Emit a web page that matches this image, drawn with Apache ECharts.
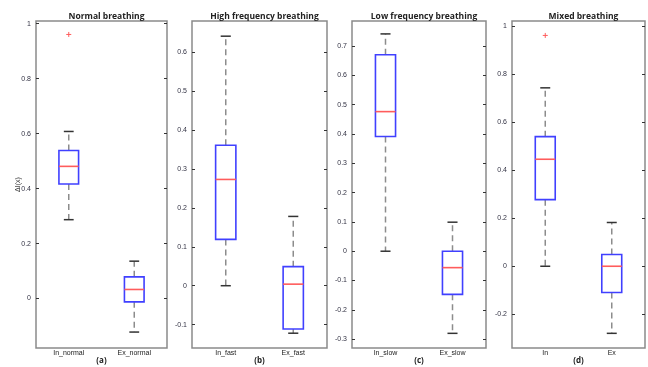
<!DOCTYPE html>
<html>
<head>
<meta charset="utf-8">
<script src="https://cdn.jsdelivr.net/npm/echarts@6/dist/echarts.min.js"></script>
<style>
  html, body { margin: 0; padding: 0; background: #fff; }
  #chart { width: 648px; height: 367px; }
</style>
</head>
<body>
<div id="chart"></div>
<script>
const titles = ["Normal breathing", "High frequency breathing", "Low frequency breathing", "Mixed breathing"];
const panelTags = ["(a)", "(b)", "(c)", "(d)"];
const categories = [
  ["In_normal", "Ex_normal"],
  ["In_fast", "Ex_fast"],
  ["In_slow", "Ex_slow"],
  ["In", "Ex"]
];

// [low whisker, q1, median, q3, high whisker]
const normalStats = [[0.287, 0.417, 0.481, 0.539, 0.608], [-0.122, -0.012, 0.033, 0.079, 0.136]];
const fastStats = [[0, 0.119, 0.273, 0.361, 0.641], [-0.122, -0.111, 0.004, 0.049, 0.178]];
const slowStats = [[0, 0.391, 0.476, 0.670, 0.741], [-0.280, -0.147, -0.056, 0, 0.099]];
const mixedStats = [[0, 0.277, 0.445, 0.539, 0.742], [-0.279, -0.109, 0, 0.049, 0.182]];
const allStats = [normalStats, fastStats, slowStats, mixedStats];

// [category index, value]
const normalOutliers = [[0, 0.961]];
const fastOutliers = [];
const slowOutliers = [];
const mixedOutliers = [[0, 0.960]];
const allOutliers = [normalOutliers, fastOutliers, slowOutliers, mixedOutliers];

const yRanges = [[-0.18, 1.01], [-0.16, 0.68], [-0.33, 0.785], [-0.34, 1.02]];
const yTicks = [
  [0, 0.2, 0.4, 0.6, 0.8, 1],
  [-0.1, 0, 0.1, 0.2, 0.3, 0.4, 0.5, 0.6],
  [-0.3, -0.2, -0.1, 0, 0.1, 0.2, 0.3, 0.4, 0.5, 0.6, 0.7],
  [-0.2, 0, 0.2, 0.4, 0.6, 0.8, 1]
];

const gridBoxes = [
  { left: 36, right: 481 },
  { left: 192, right: 321 },
  { left: 352, right: 162 },
  { left: 512, right: 3 }
];

const colors = {
  box: "#4040ff",
  median: "#ff5c5c",
  whisker: "#8c8c8c",
  cap: "#333",
  frame: "#8a8a8a",
  text: "#222"
};

const chart = echarts.init(document.getElementById("chart"));
const fmt = (v) => String(+v.toFixed(2));

const renderBox = (params, api) => {
  const cat = api.value(0);
  const band = api.size([1, 0])[0];
  const bw = band * 0.3;
  const cw = band * 0.15;
  const pLow = api.coord([cat, api.value(1)]);
  const pQ1 = api.coord([cat, api.value(2)]);
  const pMed = api.coord([cat, api.value(3)]);
  const pQ3 = api.coord([cat, api.value(4)]);
  const pHigh = api.coord([cat, api.value(5)]);
  const x = pLow[0];
  const dash = { stroke: colors.whisker, lineWidth: 1.5, lineDash: [6, 4] };
  return {
    type: "group",
    children: [
      { type: "line", shape: { x1: x, y1: pQ3[1], x2: x, y2: pHigh[1] }, style: dash },
      { type: "line", shape: { x1: x, y1: pQ1[1], x2: x, y2: pLow[1] }, style: dash },
      { type: "line", shape: { x1: x - cw / 2, y1: pHigh[1], x2: x + cw / 2, y2: pHigh[1] }, style: { stroke: colors.cap, lineWidth: 1.5 } },
      { type: "line", shape: { x1: x - cw / 2, y1: pLow[1], x2: x + cw / 2, y2: pLow[1] }, style: { stroke: colors.cap, lineWidth: 1.5 } },
      { type: "rect", shape: { x: x - bw / 2, y: pQ3[1], width: bw, height: pQ1[1] - pQ3[1] }, style: { fill: "#fff", stroke: colors.box, lineWidth: 1.6 } },
      { type: "line", shape: { x1: x - bw / 2, y1: pMed[1], x2: x + bw / 2, y2: pMed[1] }, style: { stroke: colors.median, lineWidth: 1.6 } }
    ]
  };
};

const renderOutlier = (params, api) => {
  const p = api.coord([api.value(0), api.value(1)]);
  const s = 2.5;
  return {
    type: "group",
    children: [
      { type: "line", shape: { x1: p[0] - s, y1: p[1], x2: p[0] + s, y2: p[1] }, style: { stroke: colors.median, lineWidth: 1 } },
      { type: "line", shape: { x1: p[0], y1: p[1] - s, x2: p[0], y2: p[1] + s }, style: { stroke: colors.median, lineWidth: 1 } }
    ]
  };
};

const grid = gridBoxes.map((g) => ({
  left: g.left,
  right: g.right,
  top: 21,
  bottom: 19,
  outerBoundsMode: "none",
  containLabel: false,
  show: true,
  borderColor: colors.frame,
  borderWidth: 1.5,
  backgroundColor: "#fff"
}));

const xAxis = categories.map((cats, i) => ({
  type: "category",
  gridIndex: i,
  data: cats,
  name: panelTags[i],
  nameLocation: "middle",
  nameGap: 9,
  nameMoveOverlap: false,
  nameTextStyle: { fontSize: 8, fontWeight: "bold", color: colors.text, fontFamily: "Open Sans", verticalAlign: "top" },
  axisLine: { show: false },
  axisTick: { show: false },
  axisLabel: { fontSize: 7, color: colors.text, margin: 2, fontFamily: "Liberation Sans" }
}));

const yAxis = [];
yRanges.forEach((r, i) => {
  yAxis.push({
    type: "value",
    gridIndex: i,
    min: r[0],
    max: r[1],
    name: i === 0 ? "ΔI(x)" : "",
    nameLocation: "middle",
    nameGap: 14,
    nameMoveOverlap: false,
    nameRotate: 90,
    nameTextStyle: { fontSize: 7, color: colors.text, fontFamily: "Liberation Sans" },
    axisLine: { show: false },
    splitLine: { show: false },
    axisTick: { show: true, inside: true, length: 3, customValues: yTicks[i], lineStyle: { color: "#333" } },
    axisLabel: { fontSize: 7, color: "#334", margin: 5, customValues: yTicks[i], formatter: fmt, fontFamily: "Liberation Sans" }
  });
  yAxis.push({
    type: "value",
    gridIndex: i,
    position: "right",
    min: r[0],
    max: r[1],
    axisLine: { show: false },
    splitLine: { show: false },
    axisTick: { show: true, inside: true, length: 3, customValues: yTicks[i], lineStyle: { color: "#333" } },
    axisLabel: { show: false }
  });
});

const series = [];
allStats.forEach((stats, i) => {
  series.push({
    type: "custom",
    xAxisIndex: i,
    yAxisIndex: i * 2,
    renderItem: renderBox,
    data: stats.map((s, k) => [k, ...s]),
    silent: true
  });
  if (allOutliers[i].length) {
    series.push({
      type: "custom",
      xAxisIndex: i,
      yAxisIndex: i * 2,
      renderItem: renderOutlier,
      data: allOutliers[i],
      silent: true
    });
  }
});

const title = titles.map((t, i) => {
  const g = gridBoxes[i];
  const center = (g.left + (648 - g.right)) / 2;
  return {
    text: t,
    left: center,
    top: 7,
    textAlign: "center",
    textStyle: { fontSize: 8.5, fontWeight: "bold", color: colors.text, fontFamily: "Open Sans" }
  };
});

chart.setOption({
  animation: false,
  backgroundColor: "#fff",
  title,
  grid,
  xAxis,
  yAxis,
  series
});
</script>
</body>
</html>
